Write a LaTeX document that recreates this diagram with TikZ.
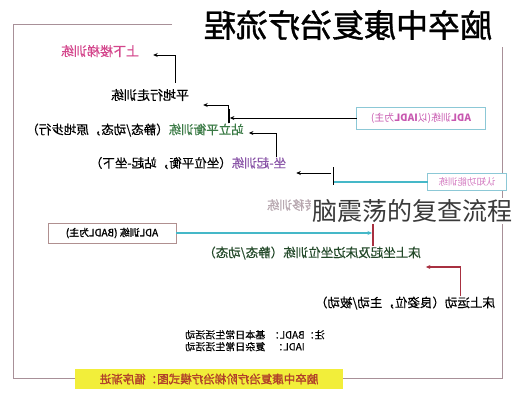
\documentclass[tikz,border=0pt]{standalone}
\usepackage{fontspec}
\setmainfont{Noto Sans CJK SC}
\newfontfamily\titlefont[FakeBold=1.2]{Noto Sans CJK SC}
\newfontfamily\boldcjk[FakeBold=1.5]{Noto Sans CJK SC}
\newfontfamily\lblfont[FakeBold=0.4]{Noto Sans CJK SC}
\usetikzlibrary{arrows.meta,calc}
\definecolor{framec}{HTML}{A89098}
\definecolor{pinkc}{HTML}{D4468C}
\definecolor{greenc}{HTML}{3A7A45}
\definecolor{purplec}{HTML}{8A55A8}
\definecolor{cyanc}{HTML}{45B8C8}
\definecolor{redc}{HTML}{A83040}
\definecolor{boxpink}{HTML}{C858B0}
\definecolor{boxcyan}{HTML}{8CC8D6}
\definecolor{boxred}{HTML}{B09090}
\definecolor{grayc}{HTML}{B8A8B0}
\definecolor{yellowc}{HTML}{F2EE3A}
\definecolor{yelltext}{HTML}{B0402A}
\definecolor{overlayc}{HTML}{3A3A3A}
\newcommand{\mirr}[1]{\reflectbox{#1}}
\begin{document}
\begin{tikzpicture}[x=1pt,y=-1pt,
  lbl/.style={inner sep=0pt, font=\lblfont\fontsize{12.5}{14}\selectfont},
  arr/.style={draw=black, line width=0.9pt, -{Stealth[length=4.5pt,width=4pt]}},
  stemline/.style={draw=black, line width=1.3pt},
  framel/.style={draw=framec, line width=0.7pt},
  boxn/.style={fill=white, inner sep=0pt, line width=0.8pt},
]
\useasboundingbox[fill=white] (0,0) rectangle (516,400);

% frame
\draw[framel] (172,24) -- (13,24) -- (13,378) -- (75,378);
\draw[framel] (343,378) -- (502,378) -- (502,47);

% title
\node[inner sep=0pt, font=\titlefont\fontsize{32}{34}\selectfont] (title) at (348,25) {\mirr{脑卒中康复治疗流程}};

% labels
\node[lbl, text=pinkc, font=\lblfont\fontsize{13}{15}\selectfont] (stairs) at (100,51) {\mirr{上下楼梯训练}};
\node[lbl, font=\lblfont\fontsize{13}{15}\selectfont] (walk) at (150,95) {\mirr{平地行走训练}};
\node[lbl] (stand) at (135,130) {\mirr{\textcolor{greenc}{站立平衡训练}（静态/动态，原地步行）}};
\node[lbl] (sit) at (188,163) {\mirr{\textcolor{purplec}{坐-起训练}（坐位平衡，站起-坐下）}};
\node[lbl, text=grayc, font=\lblfont\fontsize{12.5}{14}\selectfont] (transfer) at (292,205) {\mirr{转移训练}};
\node[lbl, text=greenc!60!black] (bed1) at (312,253) {\mirr{床上坐起及床边坐位训练（静态/动态）}};
\node[lbl] (bedmv) at (405,303) {\mirr{床上运动（良姿位，主动/被动）}};

% boxes
\node[boxn, text=boxpink, minimum width=128pt, minimum height=21pt, font=\fontsize{10}{12}\selectfont] (iadl) at (421,118) {\mirr{\textbf{ADL}训练(以\textbf{IADL}为主)}};
\draw[boxcyan, line width=0.8pt] (iadl.south west) rectangle (iadl.north east);
\node[boxn, text=boxpink!80, minimum width=78pt, minimum height=16pt, font=\fontsize{9.5}{11}\selectfont] (cog) at (467,182) {\mirr{认知功能训练}};
\draw[boxcyan, line width=0.8pt] (cog.south west) rectangle (cog.north east);
\node[boxn, draw=boxred, text=black, minimum width=128pt, minimum height=20pt, font=\boldcjk\fontsize{10}{12}\selectfont] (badl) at (112,233) {\mirr{ADL训练 (BADL为主)}};

% note
\node[inner sep=0pt, font=\lblfont\fontsize{10}{11.5}\selectfont] (note) at (255,342) {\mirr{\begin{tabular}{@{}l@{}l@{\ \ }l@{}}注：&BADL：&基本日常生活活动\\ &IADL：&复杂日常生活活动\end{tabular}}};

% yellow caption
\node[fill=yellowc, inner sep=0pt, minimum width=268pt, minimum height=20pt, text=yelltext, font=\boldcjk\fontsize{11.5}{13}\selectfont] (caption) at (209,379) {\mirr{脑卒中康复治疗阶梯治疗模式图：循序渐进}};

% connectors
\draw[arr] ($(walk.north east)+(-14,-6)$) |- ($(stairs.east)+(14,4)$);
\coordinate (v2) at ($(stand.north east)+(-15,0)$);
\draw[stemline] (v2) -- ++(0,-14);
\draw[arr] (v2) |- ($(walk.east)+(14,10)$);
\draw[arr] (iadl.west) -- ($(iadl.west -| v2)+(1,0)$);
\draw[arr] ($(sit.north east)+(-10,0)$) |- ($(stand.east)+(5,3)$);
\coordinate (t5) at ($(sit.east)+(47,13)$);
\draw[cyanc, line width=1.1pt] (cog.west) -- (cog.west -| t5);
\draw[stemline] ($(t5)+(0,-9)$) -- ($(t5)+(0,9)$);
\draw[arr] ($(t5)+(-2,-3)$) -- ($(sit.east)+(10,10)$);
\coordinate (t6) at ($(bed1.north)+(61,0)$);
\draw[redc, line width=1.1pt] (t6) -- ++(0,-27);
\draw[cyanc, line width=1.1pt, -{Stealth[length=4.5pt,width=4pt]}] (badl.east) -- ($(badl.east -| t6)+(-1,0)$);
\draw[redc, line width=1.1pt, -{Stealth[length=4.5pt,width=4pt]}] ($(bedmv.north east)+(-35,0)$) |- ($(bed1.east)+(5,14)$);

% overlay
\node[fill=white, inner sep=1pt, text=overlayc, font=\fontsize{25}{27}\selectfont] (overlay) at (412,211) {脑震荡的复查流程};
\end{tikzpicture}
\end{document}
